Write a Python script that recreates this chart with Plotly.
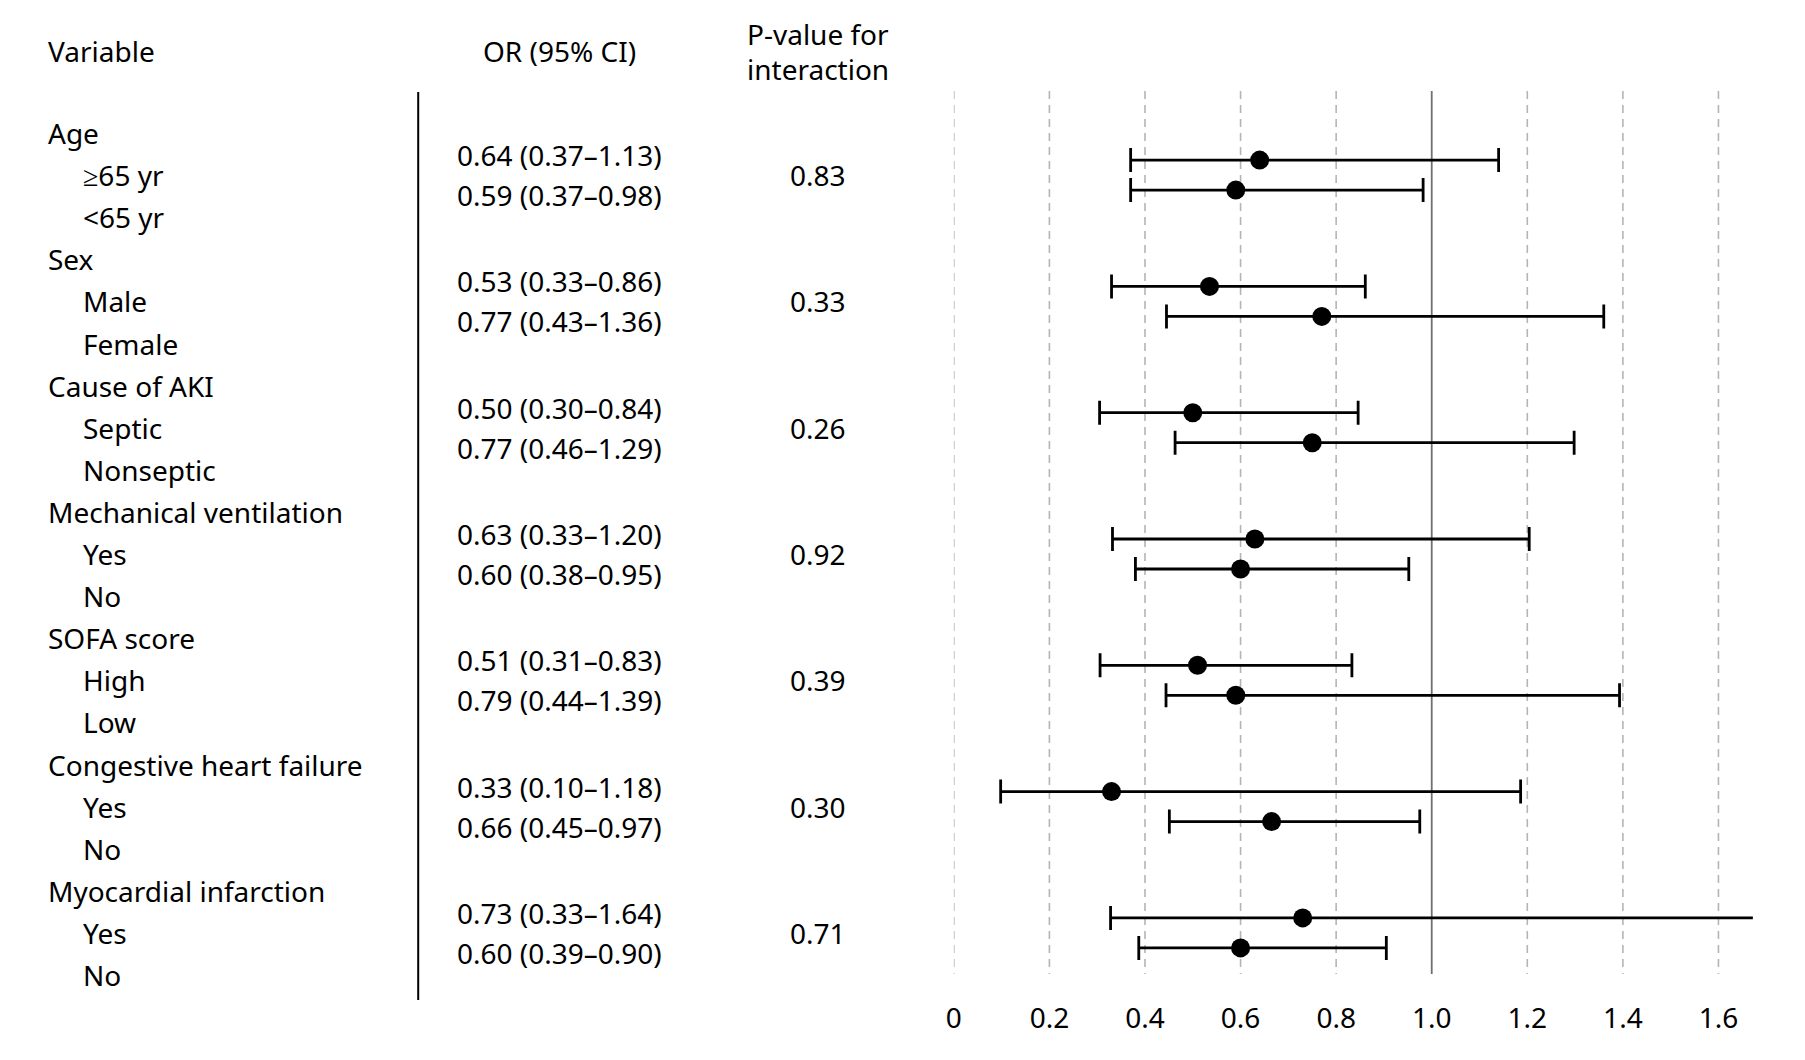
import plotly.graph_objects as go

# ---------------- data ----------------
groups = ["Age", "Sex", "Cause of AKI", "Mechanical ventilation", "SOFA score",
          "Congestive heart failure", "Myocardial infarction"]
subgroups = [["≥65 yr", "<65 yr"], ["Male", "Female"], ["Septic", "Nonseptic"],
             ["Yes", "No"], ["High", "Low"], ["Yes", "No"], ["Yes", "No"]]
or_labels = [["0.64 (0.37–1.13)", "0.59 (0.37–0.98)"],
             ["0.53 (0.33–0.86)", "0.77 (0.43–1.36)"],
             ["0.50 (0.30–0.84)", "0.77 (0.46–1.29)"],
             ["0.63 (0.33–1.20)", "0.60 (0.38–0.95)"],
             ["0.51 (0.31–0.83)", "0.79 (0.44–1.39)"],
             ["0.33 (0.10–1.18)", "0.66 (0.45–0.97)"],
             ["0.73 (0.33–1.64)", "0.60 (0.39–0.90)"]]
p_values = ["0.83", "0.33", "0.26", "0.92", "0.39", "0.30", "0.71"]

# plotted point estimates and CIs (as drawn in the figure)
or_est = [0.64, 0.59, 0.535, 0.77, 0.50, 0.75, 0.63, 0.60, 0.51, 0.59, 0.33, 0.665, 0.73, 0.60]
ci_lo = [0.37, 0.37, 0.33, 0.445, 0.305, 0.463, 0.332, 0.38, 0.306, 0.444, 0.098, 0.451, 0.328, 0.387]
ci_hi = [1.14, 0.982, 0.861, 1.36, 0.846, 1.298, 1.204, 0.952, 0.833, 1.393, 1.186, 0.975, 1.70, 0.905]

tick_vals = [0, 0.2, 0.4, 0.6, 0.8, 1.0, 1.2, 1.4, 1.6]
tick_text = ["0", "0.2", "0.4", "0.6", "0.8", "1.0", "1.2", "1.4", "1.6"]

# ---------------- layout helpers ----------------
W, H = 1805, 1060
FONT = "Noto Sans"
FS = 28
ROW0, ROWH = 125, 42.1
AX_BOTTOM = 991


def row_px(k):
    return ROW0 + ROWH * k


def xp(px):
    return px / W


ys = []
for g in range(len(groups)):
    c = row_px(3 * g + 1)
    ys += [c - 15, c + 15]

fig = go.Figure()

fig.add_trace(go.Scatter(
    x=or_est, y=ys, mode="markers",
    marker=dict(symbol="circle", size=19, color="black"),
    error_x=dict(type="data", symmetric=False,
                 array=[h - o for h, o in zip(ci_hi, or_est)],
                 arrayminus=[o - l for o, l in zip(or_est, ci_lo)],
                 color="black", thickness=2.8, width=12),
    hoverinfo="skip", showlegend=False,
))

shapes = []
for v in tick_vals:
    if v == 1.0:
        shapes.append(dict(type="line", xref="x", yref="y", x0=v, x1=v, y0=83, y1=966,
                           line=dict(color="#707070", width=1.8), layer="below"))
    else:
        shapes.append(dict(type="line", xref="x", yref="y", x0=v, x1=v, y0=83, y1=966,
                           line=dict(color="#b4b4b4", width=1.6, dash="8px,6px"), layer="below"))
shapes.append(dict(type="line", xref="paper", yref="paper", x0=xp(404), x1=xp(404),
                   y0=1 - 992 / H, y1=1 - 84 / H, line=dict(color="black", width=2)))

annotations = []


def txt(s, x, y, anchor="left"):
    annotations.append(dict(text=s, xref="paper", yref="y", x=xp(x), y=y,
                            xanchor=anchor, yanchor="middle", showarrow=False,
                            font=dict(family=FONT, size=FS, color="black")))


VAR_X, SUB_X, OR_X, P_X = 30, 65, 546, 806

txt("Variable", VAR_X, 43)
txt("OR (95% CI)", OR_X, 43, "center")
txt("P-value for", P_X, 26, "center")
txt("interaction", P_X, 61, "center")

for g, name in enumerate(groups):
    txt(name, VAR_X, row_px(3 * g))
    txt(subgroups[g][0], SUB_X, row_px(3 * g + 1))
    txt(subgroups[g][1], SUB_X, row_px(3 * g + 2))
    c = row_px(3 * g + 1)
    txt(or_labels[g][0], OR_X, c - 20, "center")
    txt(or_labels[g][1], OR_X, c + 20, "center")
    txt(p_values[g], P_X, c, "center")

fig.update_layout(
    width=W, height=H,
    margin=dict(l=0, r=0, t=0, b=0),
    paper_bgcolor="white", plot_bgcolor="white",
    showlegend=False,
    shapes=shapes, annotations=annotations,
    xaxis=dict(range=[0, 1.672], domain=[xp(942), xp(1744.6)],
               showgrid=False, zeroline=False, showline=False, ticks="",
               tickvals=tick_vals, ticktext=tick_text,
               tickfont=dict(family=FONT, size=FS, color="black"),
               fixedrange=True),
    yaxis=dict(range=[AX_BOTTOM, 0], domain=[(H - AX_BOTTOM) / H, 1], visible=False,
               fixedrange=True),
)

fig.write_html("out.html")
